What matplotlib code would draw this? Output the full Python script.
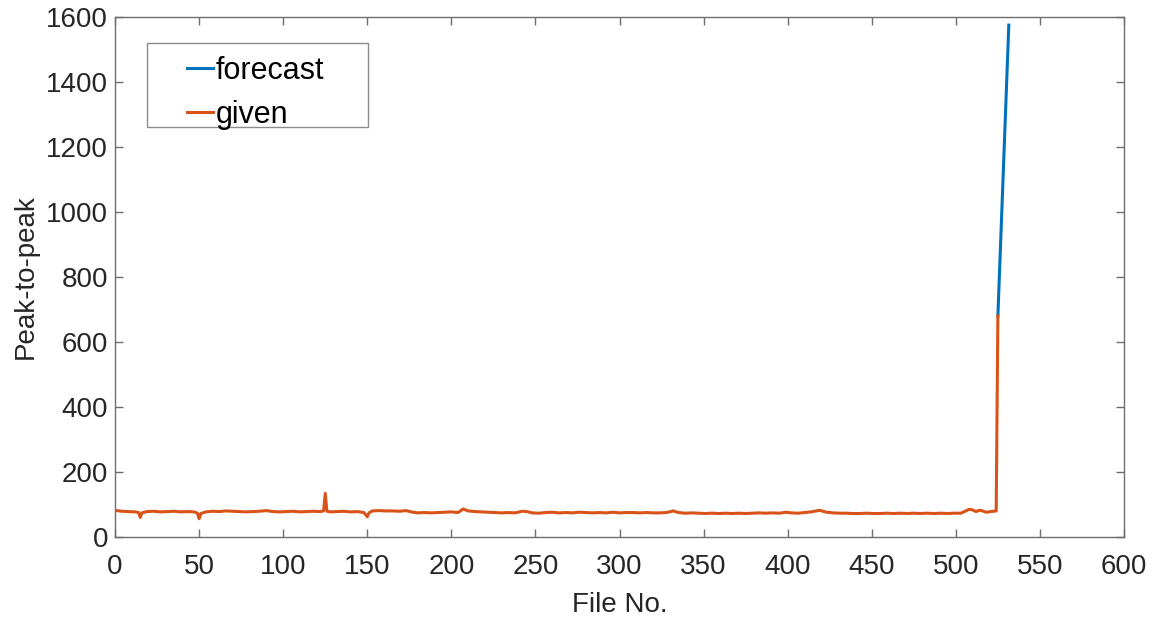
import numpy as np
import matplotlib
matplotlib.use("Agg")
import matplotlib.pyplot as plt
from matplotlib.patches import Rectangle

# Given peak-to-peak values (file no., value)
given_x = [1, 4, 8, 12, 14, 15, 16, 19, 23, 27, 31, 35, 39, 43, 47, 49, 50, 51,
           54, 58, 62, 66, 70, 74, 78, 82, 86, 90, 94, 98, 102, 106, 110, 114,
           118, 122, 124, 125, 126, 128, 132, 136, 140, 144, 148, 150, 151, 153,
           157, 161, 165, 169, 173, 176, 180, 184, 188, 192, 196, 200, 204, 207,
           210, 214, 218, 222, 226, 230, 234, 238, 242, 245, 248, 252, 256, 260,
           264, 268, 272, 276, 280, 284, 288, 292, 296, 300, 304, 308, 312, 316,
           320, 324, 328, 332, 335, 339, 343, 347, 351, 355, 359, 363, 367, 371,
           375, 379, 383, 387, 391, 395, 399, 402, 406, 410, 414, 419, 423, 427,
           431, 435, 439, 443, 447, 451, 455, 459, 463, 467, 471, 475, 479, 483,
           487, 491, 495, 499, 503, 506, 508, 510, 512, 514, 516, 518, 521, 524,
           525]
given_y = [81, 79, 78, 77, 75, 60, 74, 78, 79, 77, 78, 79, 77, 78, 77, 73, 56, 72,
           77, 79, 78, 80, 79, 78, 77, 78, 79, 81, 78, 77, 78, 79, 77, 78,
           79, 78, 80, 134, 79, 77, 78, 79, 77, 78, 75, 62, 74, 80,
           81, 80, 80, 79, 81, 77, 74, 75, 74, 75, 76, 77, 75, 86,
           80, 78, 77, 76, 75, 74, 75, 74, 79, 78, 74, 73, 75, 76,
           74, 75, 74, 76, 75, 74, 75, 74, 76, 74, 75, 75, 74, 75,
           74, 74, 75, 80, 75, 73, 74, 73, 72, 73, 72, 73, 72, 73,
           72, 73, 74, 73, 74, 73, 76, 74, 73, 75, 77, 82, 76, 74,
           73, 73, 72, 72, 73, 72, 72, 73, 72, 73, 72, 73, 72, 73,
           72, 73, 72, 73, 73, 80, 85, 83, 78, 82, 80, 76, 78, 80,
           680]

# Forecast
forecast_x = [525, 531.5]
forecast_y = [680, 1575]

blue = "#0072BD"
orange = "#D95319"
grey = "#262626"
axis_grey = "#6e6e6e"

plt.rcParams["font.family"] = ["Liberation Sans", "DejaVu Sans"]

fig = plt.figure(figsize=(11.54, 6.2), dpi=100)
ax = fig.add_axes([0.0997, 0.134, 0.8743, 0.8386])

ax.plot(forecast_x, forecast_y, color=blue, lw=2.2, label="forecast")
ax.plot(given_x, given_y, color=orange, lw=2.2, label="given")

ax.set_xlim(0, 600)
ax.set_ylim(0, 1600)
ax.set_xticks(np.arange(0, 601, 50))
ax.set_yticks(np.arange(0, 1601, 200))
ax.tick_params(direction="in", top=True, right=True, length=6, width=1,
               color=axis_grey, labelcolor=grey, labelsize=20)
ax.tick_params(axis="x", pad=12.5)
ax.tick_params(axis="y", pad=5)
for s in ax.spines.values():
    s.set_color(axis_grey)
    s.set_linewidth(1)

ax.set_xlabel("File No.", fontsize=20, color=grey, labelpad=8.5)
ax.set_ylabel("Peak-to-peak", fontsize=20, color=grey, labelpad=5)

# legend: MATLAB style box drawn separately
leg = ax.legend(loc="upper left", bbox_to_anchor=(0.0714, 0.925), fontsize=22,
                handlelength=0.85, handletextpad=0.1, borderpad=0,
                labelspacing=0.45, frameon=False, borderaxespad=0)
ax.add_patch(Rectangle((0.0317, 0.788), 0.219, 0.162, transform=ax.transAxes,
                       facecolor="white", edgecolor="#8c8c8c", lw=1, zorder=4))
leg.set_zorder(5)

fig.savefig("out.png", dpi=100)
